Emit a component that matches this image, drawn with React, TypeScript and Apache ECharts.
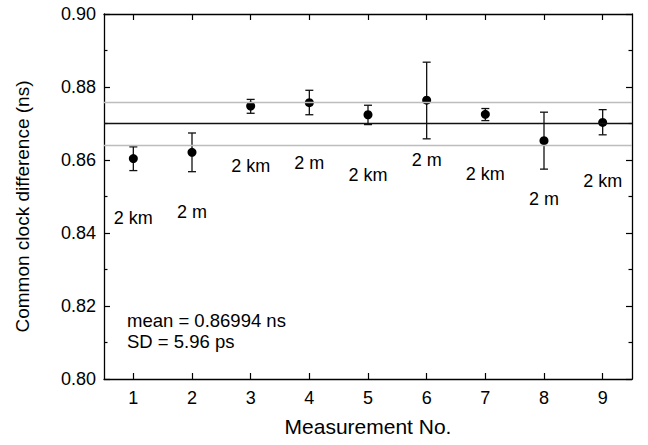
import React, { useEffect, useRef } from "react";
import * as echarts from "echarts";

const categories = ["1", "2", "3", "4", "5", "6", "7", "8", "9"];
const means = [0.8604, 0.8621, 0.8748, 0.8757, 0.8724, 0.8764, 0.8725, 0.8653, 0.8703];
const errLow = [0.8571, 0.8568, 0.8728, 0.8724, 0.8697, 0.8658, 0.8708, 0.8575, 0.8669];
const errHigh = [0.8636, 0.8674, 0.8766, 0.8791, 0.875, 0.8868, 0.8741, 0.8731, 0.8738];
const distLabels = ["2 km", "2 m", "2 km", "2 m", "2 km", "2 m", "2 km", "2 m", "2 km"];
const distLabelY = [0.8441, 0.8458, 0.8584, 0.8593, 0.8559, 0.86, 0.8562, 0.8492, 0.8543];
const meanValue = 0.86994;
const sdUpper = 0.8759;
const sdLower = 0.864;
const yTicks = { min: 0.8, max: 0.9, interval: 0.02 };
const annotations = ["mean = 0.86994 ns", "SD = 5.96 ps"];

const FONT = "'Liberation Sans', Arial, Helvetica, sans-serif";

export default function App() {
  const ref = useRef<HTMLDivElement>(null);
  useEffect(() => {
    document.body.style.margin = "0";
    if (!ref.current) return;
    const chart = echarts.init(ref.current, null, { renderer: "svg" });
    const axisLine = { show: true, onZero: false, lineStyle: { color: "#000", width: 1.3 } };
    const tick = { show: true, inside: true, length: 6, lineStyle: { color: "#000", width: 1.2 } };
    const option: any = {
      animation: false,
      backgroundColor: "#fff",
      textStyle: { fontFamily: FONT },
      grid: { left: 104, right: 16, top: 14, bottom: 66, containLabel: false },
      xAxis: [
        {
          type: "category",
          data: categories,
          position: "bottom",
          boundaryGap: true,
          axisLine,
          axisTick: { ...tick, alignWithLabel: true },
          axisLabel: { fontSize: 18, color: "#000", margin: 10, fontFamily: FONT },
          splitLine: { show: false },
          name: "Measurement No.",
          nameLocation: "middle",
          nameGap: 37,
          nameTextStyle: { fontSize: 21, color: "#000", fontFamily: FONT },
        },
        {
          type: "category",
          data: categories,
          position: "top",
          boundaryGap: true,
          axisLine,
          axisTick: { ...tick, alignWithLabel: true },
          axisLabel: { show: false },
          splitLine: { show: false },
        },
      ],
      yAxis: [
        {
          type: "value",
          min: yTicks.min,
          max: yTicks.max,
          interval: yTicks.interval,
          position: "left",
          axisLine,
          axisTick: tick,
          minorTick: { show: true, splitNumber: 2, length: 3.5, lineStyle: { color: "#000", width: 1.2 } },
          axisLabel: {
            fontSize: 18,
            color: "#000",
            margin: 8,
            fontFamily: FONT,
            formatter: (v: number) => v.toFixed(2),
          },
          splitLine: { show: false },
          minorSplitLine: { show: false },
          name: "Common clock difference (ns)",
          nameLocation: "middle",
          nameGap: 72,
          nameTextStyle: { fontSize: 19, color: "#000", fontFamily: FONT, padding: [0, 20, 0, 0] },
        },
        {
          type: "value",
          min: yTicks.min,
          max: yTicks.max,
          interval: yTicks.interval,
          position: "right",
          axisLine,
          axisTick: tick,
          minorTick: { show: true, splitNumber: 2, length: 3.5, lineStyle: { color: "#000", width: 1.2 } },
          axisLabel: { show: false },
          splitLine: { show: false },
        },
      ],
      series: [
        {
          type: "custom",
          name: "error",
          xAxisIndex: 0,
          yAxisIndex: 0,
          z: 3,
          encode: { x: 0, y: [1, 2] },
          data: categories.map((_, i) => [i, errLow[i], errHigh[i]]),
          renderItem: (params: any, api: any) => {
            const x = api.value(0);
            const lo = api.coord([x, api.value(1)]);
            const hi = api.coord([x, api.value(2)]);
            const w = 4;
            const st = { stroke: "#111", lineWidth: 1.3 };
            return {
              type: "group",
              children: [
                { type: "line", shape: { x1: lo[0], y1: lo[1], x2: hi[0], y2: hi[1] }, style: st },
                { type: "line", shape: { x1: lo[0] - w, y1: lo[1], x2: lo[0] + w, y2: lo[1] }, style: st },
                { type: "line", shape: { x1: hi[0] - w, y1: hi[1], x2: hi[0] + w, y2: hi[1] }, style: st },
              ],
            };
          },
          markLine: {
            silent: true,
            symbol: "none",
            precision: 6,
            label: { show: false },
            data: [
              { yAxis: sdUpper, lineStyle: { color: "#bdbdbd", width: 1.3, type: "solid" } },
              { yAxis: sdLower, lineStyle: { color: "#bdbdbd", width: 1.3, type: "solid" } },
              { yAxis: meanValue, lineStyle: { color: "#111", width: 1.3, type: "solid" } },
            ],
          },
        },
        {
          type: "scatter",
          name: "mean",
          symbol: "circle",
          symbolSize: 9,
          z: 4,
          itemStyle: { color: "#000", opacity: 1 },
          data: means,
        },
        {
          type: "scatter",
          name: "labels",
          symbolSize: 0,
          symbol: "circle",
          itemStyle: { color: "rgba(0,0,0,0)", opacity: 1 },
          z: 5,
          data: categories.map((_, i) => distLabelY[i]),
          label: {
            show: true,
            position: "inside",
            formatter: (p: any) => distLabels[p.dataIndex],
            fontSize: 18,
            color: "#000",
            opacity: 1,
            fontFamily: FONT,
          },
        },
      ],
      graphic: annotations.map((t, i) => ({
        type: "text",
        x: 127,
        y: 320 + i * 21,
        style: { text: t, fontSize: 18.5, fill: "#000", fontFamily: FONT, verticalAlign: "middle", align: "left" },
      })),
    };
    chart.setOption(option);
    return () => chart.dispose();
  }, []);
  return <div ref={ref} style={{ width: 648, height: 445 }} />;
}
